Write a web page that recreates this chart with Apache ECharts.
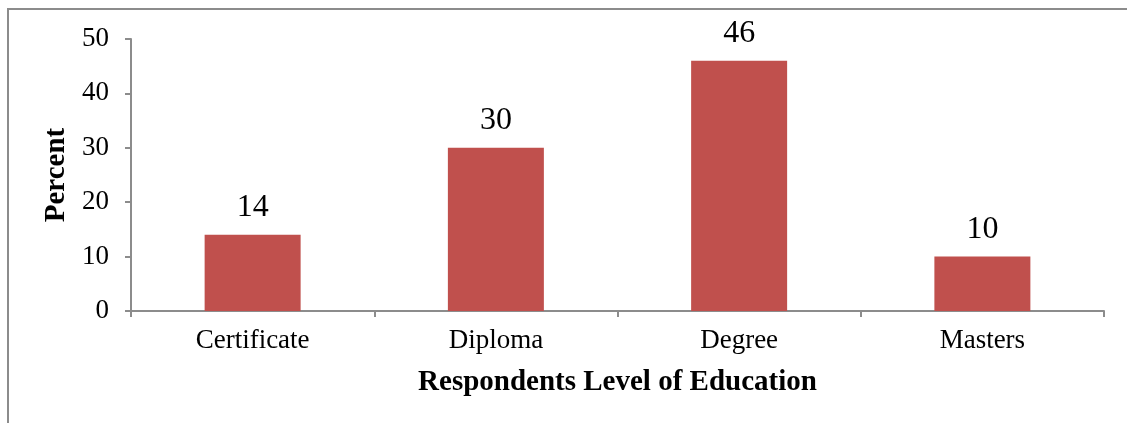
<!DOCTYPE html>
<html>
<head>
<meta charset="utf-8">
<script src="https://cdn.jsdelivr.net/npm/echarts@6/dist/echarts.min.js"></script>
<style>
html,body{margin:0;padding:0;background:#fff;}
#chart{width:1127px;height:423px;}
</style>
</head>
<body>
<div id="chart"></div>
<script>
const categories = ['Certificate', 'Diploma', 'Degree', 'Masters'];
const percentValues = [14, 30, 46, 10];
const yTicks = [0, 10, 20, 30, 40, 50];

const font = 'Liberation Serif';
const chart = echarts.init(document.getElementById('chart'));
chart.setOption({
  animation: false,
  backgroundColor: '#fff',
  graphic: [
    { type: 'polyline', shape: { points: [[8, 430], [8, 9], [1135, 9]] },
      style: { stroke: '#8c8c8c', lineWidth: 2, fill: null } }
  ],
  grid: { left: 131, right: 23, top: 39, bottom: 112, containLabel: false },
  xAxis: {
    type: 'category',
    data: categories,
    name: 'Respondents Level of Education',
    nameLocation: 'middle',
    nameGap: 57,
    nameTextStyle: { fontFamily: font, fontWeight: 'bold', fontSize: 29, color: '#000' },
    axisLine: { lineStyle: { color: '#8c8c8c', width: 2 } },
    axisTick: { show: true, alignWithLabel: false, length: 6, lineStyle: { color: '#8c8c8c', width: 2 } },
    axisLabel: { fontFamily: font, fontSize: 27, color: '#000', margin: 16 }
  },
  yAxis: {
    type: 'value',
    min: yTicks[0],
    max: yTicks[yTicks.length - 1],
    interval: 10,
    name: 'Percent',
    nameLocation: 'middle',
    nameGap: 55,
    nameRotate: 90,
    nameTextStyle: { fontFamily: font, fontWeight: 'bold', fontSize: 29, color: '#000' },
    splitLine: { show: false },
    axisLine: { show: true, lineStyle: { color: '#8c8c8c', width: 2 } },
    axisTick: { show: true, length: 6, lineStyle: { color: '#8c8c8c', width: 2 } },
    axisLabel: { fontFamily: font, fontSize: 27, color: '#000', margin: 22 }
  },
  series: [{
    type: 'bar',
    data: percentValues,
    barWidth: 96,
    itemStyle: { color: '#C0504D' },
    label: { show: true, position: 'top', distance: 11, fontFamily: font, fontSize: 32, color: '#000' }
  }]
});
</script>
</body>
</html>
